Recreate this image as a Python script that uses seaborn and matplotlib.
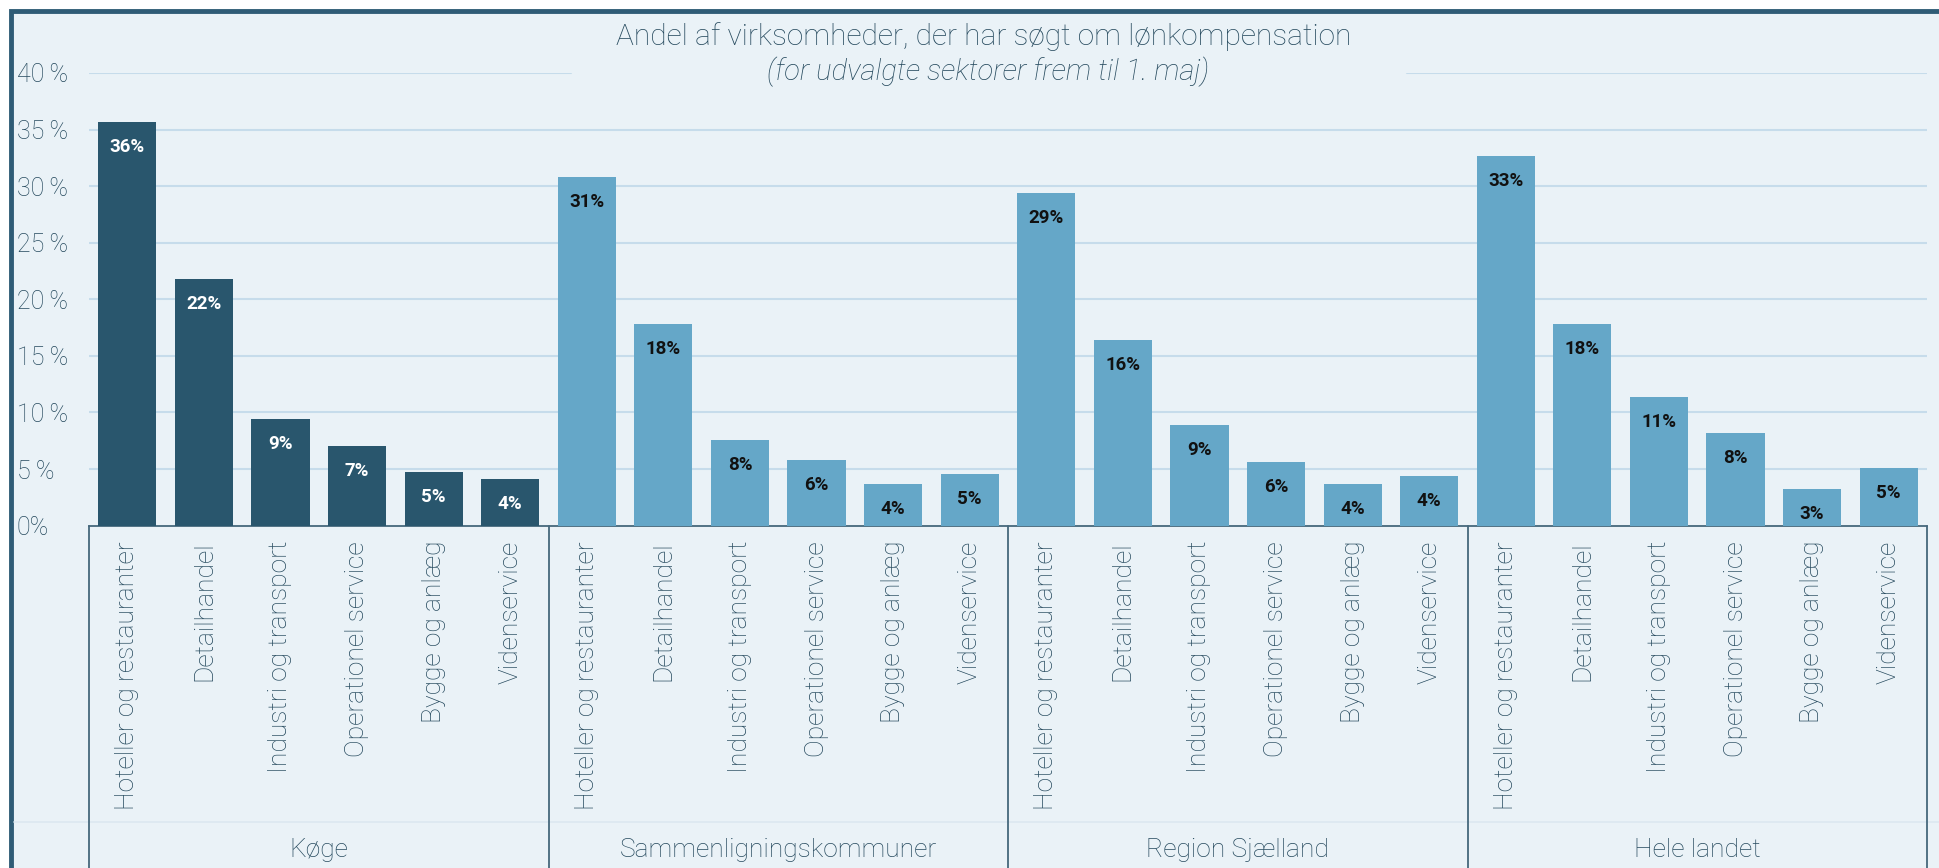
import matplotlib
matplotlib.use("Agg")
import matplotlib.pyplot as plt
import seaborn as sns
import pandas as pd
from matplotlib.patches import Rectangle

# data
groups = ["Køge", "Sammenligningskommuner", "Region Sjælland", "Hele landet"]
sectors = ["Hoteller og restauranter", "Detailhandel", "Industri og transport",
           "Operationel service", "Bygge og anlæg", "Videnservice"]
koge = [35.7, 21.8, 9.4, 7.0, 4.7, 4.1]
sammenligning = [30.8, 17.8, 7.6, 5.8, 3.7, 4.6]
region = [29.4, 16.4, 8.9, 5.6, 3.7, 4.4]
hele_landet = [32.7, 17.8, 11.4, 8.2, 3.2, 5.1]
ytick_vals = [0, 5, 10, 15, 20, 25, 30, 35, 40]
ytick_labels = ["0%", "5\u2009%", "10\u2009%", "15\u2009%", "20\u2009%",
                "25\u2009%", "30\u2009%", "35\u2009%", "40\u2009%"]

dark = "#29566d"
light = "#65a7c8"
bg = "#eaf2f7"
grid_c = "#c6dceb"
frame_c = "#2f5c76"
txt = "#264a5e"

rows = []
for g, vals in zip(groups, [koge, sammenligning, region, hele_landet]):
    for s, v in zip(sectors, vals):
        rows.append({"group": g, "sector": s, "value": v, "key": g + "|" + s})
df = pd.DataFrame(rows)

sns.set_style("white")
plt.rcParams['font.family'] = ['Roboto', 'DejaVu Sans']

W, H = 1939, 868
fig = plt.figure(figsize=(W / 100, H / 100), dpi=100)
fig.patch.set_facecolor("white")

# light panel with dark frame
fig.patches.append(Rectangle((11 / W, -0.1), 1.2, 1 - 11 / H + 0.1, transform=fig.transFigure,
                             facecolor=bg, edgecolor=frame_c, linewidth=3.5, zorder=-10))

ax_l, ax_r = 89 / W, 1927 / W
ax_b, ax_t = 1 - 525.6 / H, 1 - 73 / H
ax = fig.add_axes([ax_l, ax_b, ax_r - ax_l, ax_t - ax_b])
ax.set_facecolor("none")

pal = {g: (dark if g == "Køge" else light) for g in groups}
sns.barplot(data=df, x="key", y="value", hue="group", palette=pal, dodge=False,
            width=0.76, legend=False, ax=ax, zorder=3, saturation=1,
            edgecolor="none", linewidth=0)

ax.set_xlim(-0.5, len(df) - 0.5)
ax.set_ylim(0, 40)

# gridlines (40 % line broken by the title)
for v in ytick_vals[1:-1]:
    ax.axhline(v, color=grid_c, lw=1.5, zorder=1)
ax.axhline(40, xmin=0, xmax=(571 - 89) / (1927 - 89), color=grid_c, lw=1.5, zorder=1)
ax.axhline(40, xmin=(1407 - 89) / (1927 - 89), xmax=1, color=grid_c, lw=1.5, zorder=1)

for sp in ["top", "right", "left"]:
    ax.spines[sp].set_visible(False)
ax.spines["bottom"].set_color("#46687c")
ax.spines["bottom"].set_linewidth(1.3)

ax.set_yticks(ytick_vals)
ax.set_yticklabels(ytick_labels)
ax.tick_params(axis="y", length=0, pad=52, labelsize=18, labelcolor=txt)
for t in ax.get_yticklabels():
    t.set_horizontalalignment("left")
    t.set_fontweight("light")

ax.set_xticks(range(len(df)))
ax.set_xticklabels(df["sector"], rotation=90, va="top", ha="center")
ax.tick_params(axis="x", length=0, pad=11, labelsize=19, labelcolor=txt)
for t in ax.get_xticklabels():
    t.set_fontweight("light")
ax.set_xlabel("")
ax.set_ylabel("")

# value labels inside bars
for bar, g, v in zip(ax.patches, df["group"], df["value"]):
    ax.annotate(f"{round(v):.0f}%", (bar.get_x() + bar.get_width() / 2, bar.get_height()),
                xytext=(0, -18), textcoords="offset points", ha="center", va="center",
                fontsize=13.5, fontweight="bold",
                color="white" if g == "Køge" else "#111111", zorder=5)

# group boxes under the axis
n = len(sectors)
for k in range(len(groups) + 1):
    ax.plot([k * n - 0.5] * 2, [0, -0.8], transform=ax.get_xaxis_transform(),
            color="#46687c", lw=1.3, clip_on=False, zorder=4)
for k, g in enumerate(groups):
    ax.text(k * n + (n - 1) / 2, -0.717, g, transform=ax.get_xaxis_transform(),
            ha="center", va="center", fontsize=19, fontweight="light", color=txt)
fig.add_artist(plt.Line2D([14 / W, 1], [1 - 822 / H] * 2, color="#dce8f0", lw=1.2, zorder=-5))

fig.text(0.5075, 1 - 37 / H, "Andel af virksomheder, der har søgt om lønkompensation",
         ha="center", va="center", fontsize=21.5, fontweight="light", color=txt)
fig.text(0.5097, 1 - 72 / H, "(for udvalgte sektorer frem til 1. maj)",
         ha="center", va="center", fontsize=21, fontweight="light", style="italic", color=txt)

fig.savefig("out.png", dpi=100)
